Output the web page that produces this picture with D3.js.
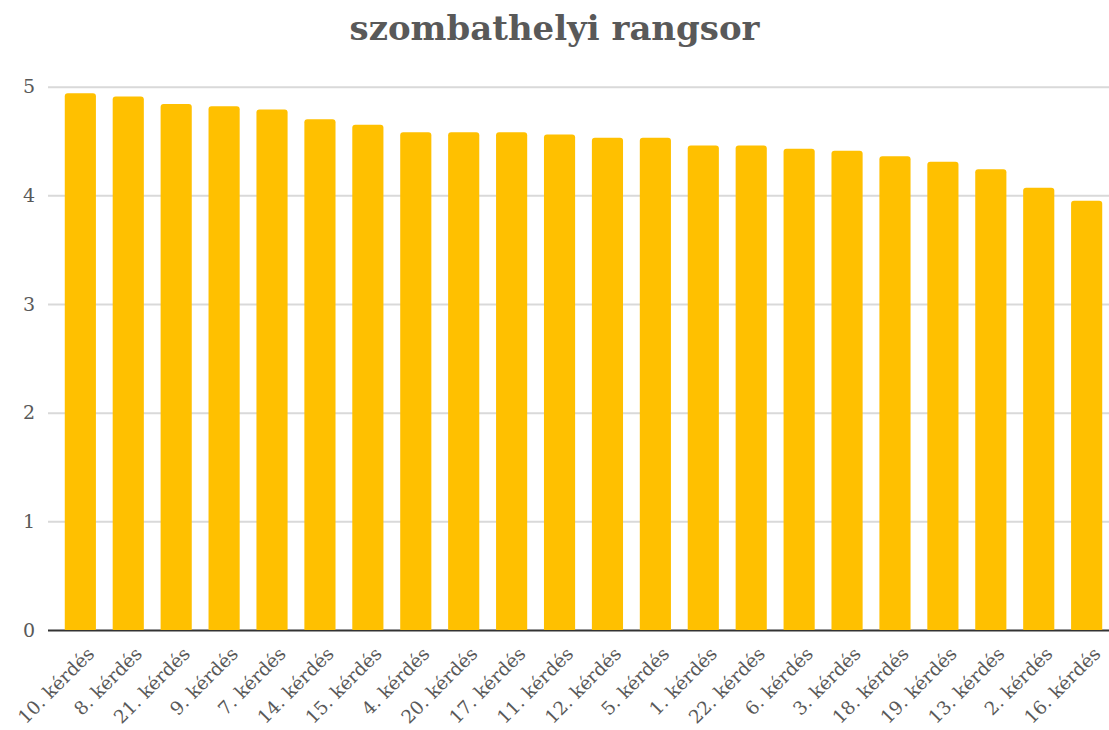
<!DOCTYPE html>
<html><head><meta charset="utf-8">
<script src="https://cdn.jsdelivr.net/npm/d3@7"></script>
<style>
html,body{margin:0;padding:0;background:#fff;}
svg{display:block;}
</style></head>
<body>
<svg id="chart" width="1109" height="730"></svg>
<script>
const titleText = "szombathelyi rangsor";
const categories = ["10. kérdés","8. kérdés","21. kérdés","9. kérdés","7. kérdés","14. kérdés","15. kérdés","4. kérdés","20. kérdés","17. kérdés","11. kérdés","12. kérdés","5. kérdés","1. kérdés","22. kérdés","6. kérdés","3. kérdés","18. kérdés","19. kérdés","13. kérdés","2. kérdés","16. kérdés"];
const values = [4.94,4.91,4.84,4.82,4.79,4.70,4.65,4.58,4.58,4.58,4.56,4.53,4.53,4.46,4.46,4.43,4.41,4.36,4.31,4.24,4.07,3.95];
const yTicks = [0,1,2,3,4,5];

const W = 1109, H = 730;
const svg = d3.select("#chart");
const font = "'DejaVu Serif', Georgia, serif";
const textColor = "#595959";

const x = d3.scaleBand().domain(categories).range([48, 1119]).paddingInner(0.35).paddingOuter(0.35);
const y = d3.scaleLinear().domain([0, 5]).range([630, 86.7]);

// gridlines
const yAxis = d3.axisLeft(y).tickValues(yTicks).tickSize(-(W - 48)).tickFormat(d3.format("d")).tickPadding(13);
const gAxis = svg.append("g").attr("transform", "translate(48,0)").call(yAxis);
gAxis.select(".domain").remove();
gAxis.selectAll(".tick line").attr("stroke", "#d9d9d9").attr("stroke-width", 2)
  .filter(d => d === 0).attr("stroke", "#333").attr("stroke-width", 2);
gAxis.selectAll(".tick text").attr("fill", textColor).attr("font-family", font).attr("font-size", 19);

// bars with rounded top corners
const r = 3;
function barPath(d, i) {
  const x0 = x(categories[i]), w = x.bandwidth();
  const yt = y(d), yb = y(0);
  return `M${x0},${yb}V${yt + r}Q${x0},${yt} ${x0 + r},${yt}H${x0 + w - r}Q${x0 + w},${yt} ${x0 + w},${yt + r}V${yb}Z`;
}
svg.append("g").selectAll("path").data(values).join("path")
  .attr("d", barPath).attr("fill", "#FFC000");

// x labels
const xAxis = d3.axisBottom(x).tickSize(0).tickPadding(0);
const gx = svg.append("g").attr("transform", "translate(0,630)").call(xAxis);
gx.select(".domain").remove();
gx.selectAll(".tick text")
  .attr("fill", textColor).attr("font-family", font).attr("font-size", 18.5)
  .attr("text-anchor", "end")
  .attr("y", 0).attr("dy", 0)
  .attr("transform", "translate(15,25) rotate(-45)");

// title
const title = svg.append("text").text(titleText)
  .attr("x", W / 2).attr("y", 40).attr("text-anchor", "middle")
  .attr("font-family", font).attr("font-weight", "bold").attr("font-size", 30).attr("fill", textColor);
const tw = title.node().getComputedTextLength();
title.attr("font-size", 30 * 410 / tw);
</script>
</body></html>
